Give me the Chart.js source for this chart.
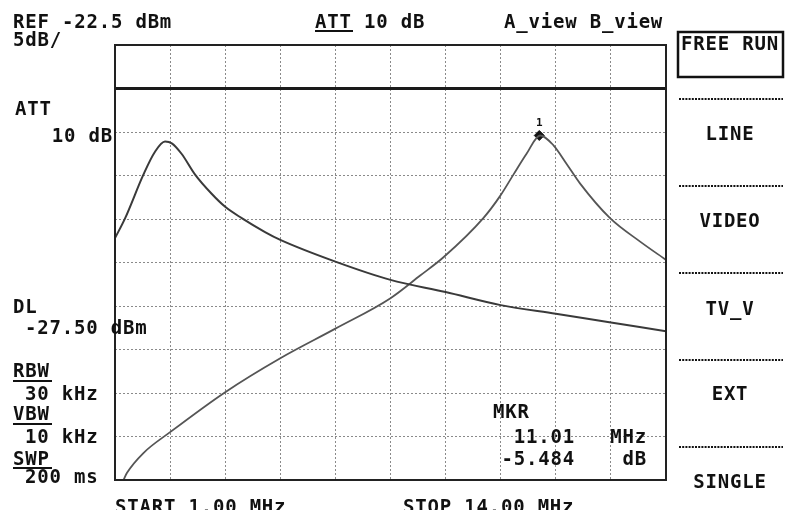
<!DOCTYPE html>
<html>
<head>
<meta charset="utf-8">
<title>Spectrum analyzer</title>
<script src="https://cdn.jsdelivr.net/npm/chart.js@4.4.1/dist/chart.umd.min.js"></script>
<style>
  html, body { margin: 0; padding: 0; background: #fff; }
  #wrap { position: relative; width: 787px; height: 510px; overflow: hidden; }
</style>
</head>
<body>
<div id="wrap"><canvas id="scope" width="787" height="510"></canvas></div>
<script>
// frequency axis (MHz) and level axis (dBm), 10 divisions each
const xTicks = [1.0, 2.3, 3.6, 4.9, 6.2, 7.5, 8.8, 10.1, 11.4, 12.7, 14.0];
const yTicks = [-72.5, -67.5, -62.5, -57.5, -52.5, -47.5, -42.5, -37.5, -32.5, -27.5, -22.5];

// trace A (low frequency resonance)
const freqA = [1.00, 1.24, 1.67, 1.94, 2.18, 2.34, 2.57, 2.89, 3.28, 3.60, 3.99, 4.54, 4.90, 6.20, 7.50, 8.80, 10.10, 11.40, 12.70, 14.00];
const levelA = [-44.7, -42.4, -37.4, -34.8, -33.6, -33.8, -35.0, -37.4, -39.6, -41.1, -42.4, -44.0, -44.9, -47.4, -49.5, -50.9, -52.4, -53.4, -54.4, -55.4];

// trace B (resonance near 11 MHz)
const freqB = [1.20, 1.28, 1.67, 2.30, 3.60, 4.90, 6.20, 7.50, 8.20, 8.75, 9.69, 10.08, 10.40, 10.71, 11.03, 11.34, 11.66, 11.97, 12.68, 13.39, 14.00];
const levelB = [-72.5, -71.7, -69.4, -67.0, -62.4, -58.5, -55.1, -51.6, -49.0, -46.9, -42.4, -39.9, -37.4, -35.0, -32.9, -34.0, -36.2, -38.4, -42.4, -45.1, -47.2];

// display line and marker
const displayLine = -27.5;
const markerFreq = 11.01;
const markerLevel = -32.9;

const pts = (xs, ys) => xs.map((x, i) => ({ x: x, y: ys[i] }));

const FONT = 'bold 19px "DejaVu Sans Mono", "Liberation Mono", monospace';

// [text, x, baseline, align]
const labels = [
  ['REF -22.5 dBm', 13, 28, 'left'],
  ['5dB/', 13, 46, 'left'],
  ['ATT', 15, 115, 'left'],
  ['10 dB', 113, 142, 'right'],
  ['ATT 10 dB', 315, 28, 'left'],
  ['A_view B_view', 504, 28, 'left'],
  ['FREE RUN', 681, 50, 'left'],
  ['LINE', 730, 140, 'center'],
  ['VIDEO', 730, 227, 'center'],
  ['TV_V', 730, 315, 'center'],
  ['EXT', 730, 400, 'center'],
  ['SINGLE', 730, 488, 'center'],
  ['DL', 13, 313, 'left'],
  ['-27.50 dBm', 25, 334, 'left'],
  ['RBW', 13, 377, 'left'],
  ['30 kHz', 25, 400, 'left'],
  ['VBW', 13, 420, 'left'],
  ['10 kHz', 25, 443, 'left'],
  ['SWP', 13, 465, 'left'],
  ['200 ms', 25, 483, 'left'],
  ['START 1.00 MHz', 115, 513, 'left'],
  ['STOP 14.00 MHz', 403, 513, 'left'],
  ['MKR', 493, 418, 'left'],
  ['11.01', 575, 443, 'right'],
  ['MHz', 647, 443, 'right'],
  ['-5.484', 575, 465, 'right'],
  ['dB', 647, 465, 'right']
];
// underlined words: [x1, x2, y]
const underlines = [[315, 353, 31], [13, 52, 381], [13, 52, 424], [13, 52, 468]];
// soft-key separators (y)
const separators = [99, 186, 273, 360, 447];

const screenPlugin = {
  id: 'screen',
  afterDraw(chart) {
    const ctx = chart.ctx;
    const a = chart.chartArea;
    ctx.save();
    // plot frame
    ctx.strokeStyle = '#222';
    ctx.lineWidth = 2;
    ctx.strokeRect(a.left, a.top, a.right - a.left, a.bottom - a.top);

    // marker number
    const mx = chart.scales.x.getPixelForValue(markerFreq);
    const my = chart.scales.y.getPixelForValue(markerLevel);
    ctx.fillStyle = '#111';
    ctx.font = 'bold 11px "DejaVu Sans Mono", monospace';
    ctx.textAlign = 'center';
    ctx.fillText('1', mx, my - 9);

    // text
    ctx.font = FONT;
    if ('letterSpacing' in ctx) ctx.letterSpacing = '0.8px';
    labels.forEach(([t, x, y, al]) => {
      ctx.textAlign = al;
      ctx.fillText(t, x, y);
    });
    ctx.lineWidth = 2;
    ctx.strokeStyle = '#111';
    underlines.forEach(([x1, x2, y]) => {
      ctx.beginPath(); ctx.moveTo(x1, y); ctx.lineTo(x2, y); ctx.stroke();
    });

    // FREE RUN box
    ctx.lineWidth = 2.5;
    ctx.strokeRect(678, 32, 105, 45);

    // dotted separators
    ctx.lineWidth = 2;
    ctx.setLineDash([2, 1.2]);
    separators.forEach(y => {
      ctx.beginPath(); ctx.moveTo(679, y); ctx.lineTo(783, y); ctx.stroke();
    });
    ctx.restore();
  }
};

new Chart(document.getElementById('scope'), {
  type: 'line',
  data: {
    datasets: [
      {
        label: 'DL',
        data: [{ x: xTicks[0], y: displayLine }, { x: xTicks[xTicks.length - 1], y: displayLine }],
        borderColor: '#1a1a1a',
        borderWidth: 3,
        pointRadius: 0
      },
      {
        label: 'A',
        data: pts(freqA, levelA),
        borderColor: '#3a3a3a',
        borderWidth: 2,
        pointRadius: 0,
        cubicInterpolationMode: 'monotone'
      },
      {
        label: 'B',
        data: pts(freqB, levelB),
        borderColor: '#555',
        borderWidth: 1.8,
        pointRadius: 0,
        cubicInterpolationMode: 'monotone'
      },
      {
        label: 'MKR',
        data: [{ x: markerFreq, y: markerLevel }],
        showLine: false,
        pointStyle: 'rectRot',
        pointRadius: 5,
        backgroundColor: '#111',
        borderColor: '#111'
      }
    ]
  },
  options: {
    responsive: false,
    animation: false,
    devicePixelRatio: 1,
    layout: { padding: { left: 115, top: 45, right: 121, bottom: 30 } },
    plugins: { legend: { display: false }, tooltip: { enabled: false } },
    scales: {
      x: {
        type: 'linear',
        min: xTicks[0],
        max: xTicks[xTicks.length - 1],
        afterBuildTicks: s => { s.ticks = xTicks.map(v => ({ value: v })); },
        ticks: { display: false },
        grid: { color: '#8a8a8a', lineWidth: 1, drawTicks: false },
        border: { display: false, dash: [2, 2] }
      },
      y: {
        type: 'linear',
        min: yTicks[0],
        max: yTicks[yTicks.length - 1],
        afterBuildTicks: s => { s.ticks = yTicks.map(v => ({ value: v })); },
        ticks: { display: false },
        grid: { color: '#8a8a8a', lineWidth: 1, drawTicks: false },
        border: { display: false, dash: [2, 2] }
      }
    }
  },
  plugins: [screenPlugin]
});
</script>
</body>
</html>
